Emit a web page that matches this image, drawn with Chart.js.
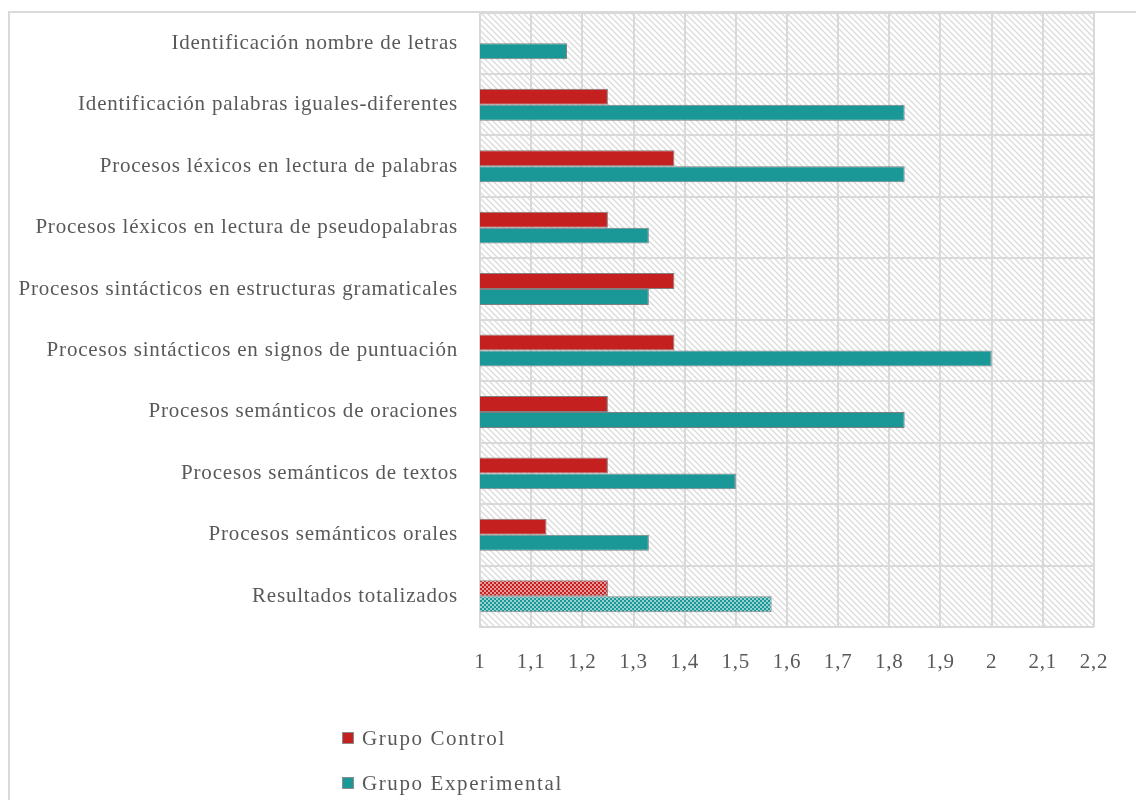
<!DOCTYPE html>
<html>
<head>
<meta charset="utf-8">
<script src="https://cdn.jsdelivr.net/npm/chart.js@4"></script>
<style>
  html, body { margin: 0; padding: 0; background: #fff; }
  #wrap { width: 1136px; height: 800px; position: relative; }
</style>
</head>
<body>
<div id="wrap"><canvas id="grafica"></canvas></div>
<script>
// categorias (de arriba hacia abajo)
const categorias = [
  'Identificación nombre de letras',
  'Identificación palabras iguales-diferentes',
  'Procesos léxicos en lectura de palabras',
  'Procesos léxicos en lectura de pseudopalabras',
  'Procesos sintácticos en estructuras gramaticales',
  'Procesos sintácticos en signos de puntuación',
  'Procesos semánticos de oraciones',
  'Procesos semánticos de textos',
  'Procesos semánticos orales',
  'Resultados totalizados'
];
const grupoControl = [null, 1.25, 1.38, 1.25, 1.38, 1.38, 1.25, 1.25, 1.13, 1.25];
const grupoExperimental = [1.17, 1.83, 1.83, 1.33, 1.33, 2.0, 1.83, 1.5, 1.33, 1.57];
const ejeMin = 1;
const ejeMax = 2.2;
const ejePaso = 0.1;

const rojo = '#C42020';
const verde = '#1A9797';
const gris = '#595959';
const fuente = "'Liberation Serif', serif";
const espaciado = '0.8px';

// patron de cuadritos para la barra de totales
const cuadritos = (color) => {
  const c = document.createElement('canvas');
  c.width = 4; c.height = 4;
  const x = c.getContext('2d');
  x.fillStyle = '#ffffff';
  x.fillRect(0, 0, 4, 4);
  x.fillStyle = color;
  x.fillRect(0, 0, 2, 2);
  x.fillRect(2, 2, 2, 2);
  x.globalAlpha = 0.45;
  x.fillRect(2, 0, 2, 2);
  x.fillRect(0, 2, 2, 2);
  return x.createPattern(c, 'repeat');
};

// rayado diagonal del fondo
const rayado = () => {
  const c = document.createElement('canvas');
  c.width = 6; c.height = 6;
  const x = c.getContext('2d');
  x.fillStyle = '#ffffff';
  x.fillRect(0, 0, 6, 6);
  x.strokeStyle = '#dcdcdc';
  x.lineWidth = 1.4;
  x.beginPath();
  x.moveTo(-1, -1); x.lineTo(7, 7);
  x.moveTo(-4, 2); x.lineTo(4, 10);
  x.moveTo(2, -4); x.lineTo(10, 4);
  x.stroke();
  return x.createPattern(c, 'repeat');
};

const coloresControl = categorias.map((c, i) => i === categorias.length - 1 ? cuadritos(rojo) : rojo);
const coloresExp = categorias.map((c, i) => i === categorias.length - 1 ? cuadritos(verde) : verde);

const fondoPlugin = {
  id: 'fondo',
  beforeLayout(chart) { chart.ctx.letterSpacing = espaciado; },
  beforeDraw(chart) {
    const {ctx, chartArea} = chart;
    ctx.letterSpacing = espaciado;
    ctx.save();
    ctx.fillStyle = rayado();
    ctx.fillRect(chartArea.left, chartArea.top, chartArea.right - chartArea.left, chartArea.bottom - chartArea.top);
    // marco exterior del grafico
    ctx.strokeStyle = '#d9d9d9';
    ctx.lineWidth = 2;
    ctx.beginPath();
    ctx.moveTo(9, chart.height);
    ctx.lineTo(9, 12);
    ctx.lineTo(chart.width, 12);
    ctx.stroke();
    ctx.restore();
  }
};

// leyenda vertical debajo del eje
const leyendaPlugin = {
  id: 'leyendaVertical',
  afterDraw(chart) {
    const {ctx} = chart;
    ctx.save();
    ctx.font = '21px ' + fuente;
    ctx.letterSpacing = '1.6px';
    ctx.textBaseline = 'middle';
    chart.data.datasets.forEach((ds, i) => {
      const y = 738 + i * 45;
      ctx.fillStyle = ds.legendColor;
      ctx.fillRect(342, y - 6, 12, 12);
      ctx.strokeStyle = '#8c8c8c';
      ctx.lineWidth = 1;
      ctx.strokeRect(342.5, y - 5.5, 11, 11);
      ctx.fillStyle = gris;
      ctx.fillText(ds.label, 362, y + 1);
    });
    ctx.restore();
  }
};

const grafica = new Chart(document.getElementById('grafica'), {
  type: 'bar',
  data: {
    labels: categorias,
    datasets: [{
      label: 'Grupo Control',
      data: grupoControl,
      backgroundColor: coloresControl,
      legendColor: rojo,
      borderColor: '#808080',
      borderWidth: 1,
      borderSkipped: 'left'
    }, {
      label: 'Grupo Experimental',
      data: grupoExperimental,
      backgroundColor: coloresExp,
      legendColor: verde,
      borderColor: '#808080',
      borderWidth: 1,
      borderSkipped: 'left'
    }]
  },
  options: {
    indexAxis: 'y',
    responsive: true,
    maintainAspectRatio: false,
    animation: false,
    categoryPercentage: 0.52,
    barPercentage: 1,
    layout: { padding: { top: 12, right: 42, left: 0, bottom: 0 } },
    plugins: {
      legend: { display: false },
      tooltip: { enabled: false }
    },
    scales: {
      x: {
        min: ejeMin,
        max: ejeMax,
        ticks: {
          stepSize: ejePaso,
          padding: 0,
          color: gris,
          font: { family: fuente, size: 21 },
          callback: (v) => (Math.round(v * 10) / 10).toString().replace('.', ',')
        },
        grid: { color: '#d9d9d9', lineWidth: 2, drawTicks: true, tickLength: 23, tickColor: 'rgba(0,0,0,0)' },
        border: { display: false },
        afterFit: (s) => { s.height = 173; }
      },
      y: {
        ticks: {
          padding: 0,
          color: gris,
          font: { family: fuente, size: 21 }
        },
        grid: { color: '#d9d9d9', lineWidth: 2, drawTicks: true, tickLength: 22, tickColor: 'rgba(0,0,0,0)', offset: true },
        border: { color: '#d9d9d9', width: 2 },
        afterFit: (s) => { s.width = 480; }
      }
    }
  },
  plugins: [fondoPlugin, leyendaPlugin]
});
</script>
</body>
</html>
